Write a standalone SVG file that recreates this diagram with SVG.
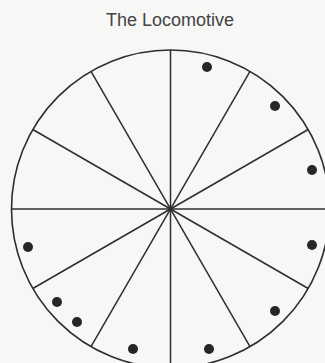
<svg xmlns="http://www.w3.org/2000/svg" width="325" height="363" viewBox="0 0 325 363">
  <style>
    .rim { fill: none; stroke: #2e2e2e; stroke-width: 1.6; }
    .spoke { stroke: #2e2e2e; stroke-width: 1.5; }
    .dot { fill: #262626; }
    .title { font-family: "Liberation Sans", Arial, sans-serif; font-size: 18px; fill: #444; text-anchor: middle; }
  </style>
  <rect width="325" height="363" fill="#f7f7f5"/>
  <text id="title" class="title" x="170" y="26">The Locomotive</text>
  <g id="wheel">
    <circle class="rim" cx="170.5" cy="209" r="159"/>
  </g>
  <g id="spokes">
    <line class="spoke" x1="11.5" y1="209" x2="329.5" y2="209"/>
    <line class="spoke" x1="170.5" y1="50" x2="170.5" y2="368"/>
    <line class="spoke" x1="308.2" y1="129.5" x2="32.8" y2="288.5"/>
    <line class="spoke" x1="250" y1="71.3" x2="91" y2="346.7"/>
    <line class="spoke" x1="91" y1="71.3" x2="250" y2="346.7"/>
    <line class="spoke" x1="32.8" y1="129.5" x2="308.2" y2="288.5"/>
  </g>
  <g id="dots">
    <circle class="dot" cx="207" cy="67" r="5"/>
    <circle class="dot" cx="275" cy="106" r="5"/>
    <circle class="dot" cx="312" cy="170" r="5"/>
    <circle class="dot" cx="312" cy="245" r="5"/>
    <circle class="dot" cx="275" cy="311" r="5"/>
    <circle class="dot" cx="209" cy="349" r="5"/>
    <circle class="dot" cx="133" cy="349" r="5"/>
    <circle class="dot" cx="77" cy="322" r="5"/>
    <circle class="dot" cx="57" cy="302" r="5"/>
    <circle class="dot" cx="28" cy="247" r="5"/>
  </g>
</svg>
